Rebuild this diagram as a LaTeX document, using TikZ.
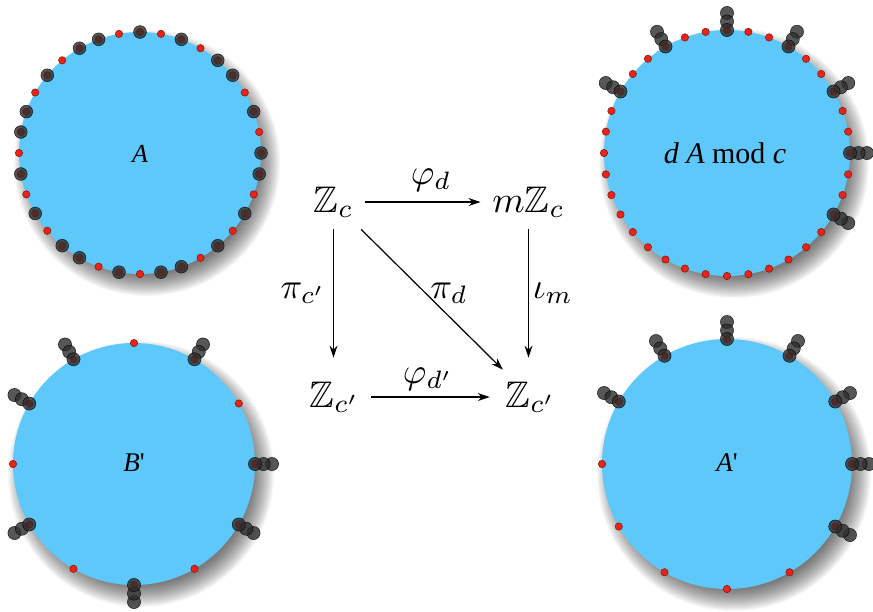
\documentclass[tikz,border=0pt]{standalone}
\usepackage{amssymb}
\usepackage{fontspec}
\newfontfamily\tnr{Liberation Serif}[Ligatures=TeXOff]
\usetikzlibrary{arrows.meta,calc}
\definecolor{disc}{RGB}{94,200,250}
\definecolor{reddot}{RGB}{232,36,24}
\definecolor{graydot}{RGB}{45,45,45}
\tikzset{
  disk/.style={fill=disc},
  shadowlayer/.style={fill=black, opacity=0.03},
  rdot/.style={fill=reddot, draw=reddot!55!black, line width=0.5pt},
  gdot/.style={fill=graydot, draw=black, line width=0.5pt, fill opacity=0.8, draw opacity=0.8},
  mnode/.style={scale=3.7, inner sep=3pt},
  lab/.style={scale=3.6, inner sep=0pt},
  ar/.style={line width=1.2pt, -{Stealth[length=12pt,width=8pt]}},
  clabel/.style={inner sep=0pt}
}
\begin{document}
\begin{tikzpicture}[x=1pt,y=-1pt]
\useasboundingbox (0,0) rectangle (873,611);
\coordinate (cA) at (140,153);
\coordinate (cD) at (727,153);
\coordinate (cB) at (134,464);
\coordinate (cP) at (727,464);
% shadows
\foreach \c/\r in {cA/121, cD/123, cB/121, cP/125}{
  \foreach \i in {0,...,22}{
    \fill[shadowlayer] ($(\c)+(7pt,-10pt)$) circle[radius={(\r+\i-10)*1pt}];
  }
}
% discs
\fill[disk] (cA) circle[radius=121pt];
\fill[disk] (cD) circle[radius=123pt];
\fill[disk] (cB) circle[radius=121pt];
\fill[disk] (cP) circle[radius=125pt];
% A : 36 positions
\foreach \k in {0,...,35}
  \fill[rdot] ($(cA)+({90-10*\k}:121pt)$) circle[radius=3.7pt];
\foreach \k in {0,2,4,5,7,9,10,12,14,16,17,19,21,22,24,26,28,29,31,33,34}
  \fill[gdot] ($(cA)+({90-10*\k}:121pt)$) circle[radius=6.4pt];
% d A mod c : 36 positions, stacks
\foreach \k in {0,...,35}
  \fill[rdot] ($(cD)+({90-10*\k}:123pt)$) circle[radius=3.7pt];
\foreach \a in {150,120,90,60,30,0,-30}
  \foreach \d in {17,8.5,0}
    \fill[gdot] ($(cD)+(\a:123pt)+(\a:\d pt)$) circle[radius=6.6pt];
% B' : 12 positions
\foreach \a in {90,60,...,-240}
  \fill[rdot] ($(cB)+(\a:121pt)$) circle[radius=3.7pt];
\foreach \a in {60,0,-30,-90,-150,150,120}
  \foreach \d in {17,8.5,0}
    \fill[gdot] ($(cB)+(\a:121pt)+(\a:\d pt)$) circle[radius=6.6pt];
% A' : 12 positions
\foreach \a in {90,60,...,-240}
  \fill[rdot] ($(cP)+(\a:125pt)$) circle[radius=3.7pt];
\foreach \a in {150,120,90,60,30,0,-30}
  \foreach \d in {17,8.5,0}
    \fill[gdot] ($(cP)+(\a:125pt)+(\a:\d pt)$) circle[radius=6.6pt];
% circle labels
\node[clabel, font={\tnr\fontsize{26}{30}\selectfont}] (tA) at (140,154) {\itshape A};
\node[clabel, font={\tnr\fontsize{30}{34}\selectfont}] (tD) at (725,153) {{\itshape d} {\itshape A} mod {\itshape c}};
\node[clabel, font={\tnr\fontsize{27}{30}\selectfont}] (tB) at (134,463) {{\itshape B}\textquotesingle};
\node[clabel, font={\tnr\fontsize{27}{30}\selectfont}] (tP) at (727,463) {{\itshape A}\textquotesingle};
% commutative diagram
\node[mnode, anchor=base] (Zc) at (333.5,212) {$\mathbb{Z}_c$};
\node[mnode, anchor=base] (mZc) at (528.5,212) {$m\mathbb{Z}_c$};
\node[mnode, anchor=base] (Zcp) at (334.5,407) {$\mathbb{Z}_{c'}$};
\node[mnode, anchor=base] (Zcq) at (530.5,407) {$\mathbb{Z}_{c'}$};
\draw[ar] (Zc) -- (mZc);
\draw[ar, shorten >=4pt] (Zcp) -- (Zcq);
\draw[ar, shorten >=12pt] (Zc) -- (Zc |- Zcp.north);
\draw[ar, shorten >=12pt] (mZc) -- (mZc |- Zcq.north);
\draw[ar] (Zc) -- (Zcq);
\node[lab] (lphi) at (431,180) {$\varphi_d$};
\node[lab] (lphip) at (428,379) {$\varphi_{d'}$};
\node[lab] (lpic) at (303,293) {$\pi_{c'}$};
\node[lab] (lpid) at (449,293) {$\pi_d$};
\node[lab] (liota) at (553,293) {$\iota_m$};
\end{tikzpicture}
\end{document}
